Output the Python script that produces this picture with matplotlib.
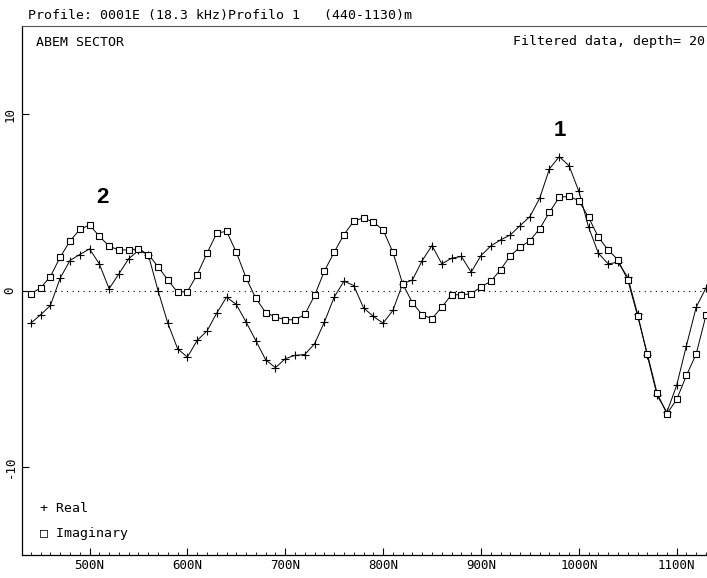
import matplotlib
matplotlib.use('Agg')
import matplotlib.pyplot as plt
from matplotlib.ticker import MultipleLocator, FixedLocator

# station positions along the profile (m)
dist = [440, 450, 460, 470, 480, 490, 500, 510, 520, 530,
        540, 550, 560, 570, 580, 590, 600, 610, 620, 630,
        640, 650, 660, 670, 680, 690, 700, 710, 720, 730,
        740, 750, 760, 770, 780, 790, 800, 810, 820, 830,
        840, 850, 860, 870, 880, 890, 900, 910, 920, 930,
        940, 950, 960, 970, 980, 990, 1000, 1010, 1020, 1030,
        1040, 1050, 1060, 1070, 1080, 1090, 1100, 1110, 1120, 1130]

real = [-1.85, -1.38, -0.85, 0.70, 1.70, 2.04, 2.36, 1.51, 0.10, 0.94,
        1.80, 2.27, 2.04, 0.00, -1.85, -3.30, -3.78, -2.83, -2.30, -1.28,
        -0.38, -0.79, -1.79, -2.85, -3.93, -4.38, -3.87, -3.68, -3.63, -3.02,
        -1.79, -0.38, 0.53, 0.28, -0.98, -1.47, -1.85, -1.13, 0.38, 0.60,
        1.70, 2.55, 1.51, 1.83, 1.93, 1.04, 1.98, 2.52, 2.87, 3.15,
        3.68, 4.19, 5.23, 6.90, 7.59, 7.08, 5.63, 3.59, 2.11, 1.51,
        1.60, 0.75, -1.32, -3.68, -5.95, -6.90, -5.38, -3.12, -0.94, 0.15]

imag = [-0.19, 0.15, 0.79, 1.89, 2.80, 3.46, 3.72, 3.08, 2.51, 2.30,
        2.30, 2.36, 2.04, 1.36, 0.60, -0.10, -0.06, 0.90, 2.11, 3.25,
        3.36, 2.17, 0.72, -0.45, -1.25, -1.50, -1.66, -1.66, -1.36, -0.28,
        1.10, 2.17, 3.17, 3.93, 4.12, 3.87, 3.44, 2.17, 0.38, -0.70,
        -1.38, -1.60, -0.94, -0.24, -0.24, -0.19, 0.21, 0.52, 1.17, 1.98,
        2.45, 2.83, 3.50, 4.44, 5.29, 5.34, 5.10, 4.15, 3.02, 2.30,
        1.74, 0.60, -1.42, -3.59, -5.82, -6.99, -6.18, -4.82, -3.59, -1.40]

xticks = [500, 600, 700, 800, 900, 1000, 1100]
xlabels = ['500N', '600N', '700N', '800N', '900N', '1000N', '1100N']
yticks = [-10, 0, 10]

mono = ['DejaVu Sans Mono', 'DejaVu Sans']
W, H = 707, 578

fig = plt.figure(figsize=(W / 100, H / 100), dpi=100)
ax = fig.add_axes([22 / W, (H - 555) / H, 1 - 22 / W, (555 - 26) / H])

ax.axhline(0, color='black', lw=0.8, ls=(0, (1, 4)))
ax.plot(dist, real, color='black', lw=0.7, marker='+', ms=6, mew=0.8)
ax.plot(dist, imag, color='black', lw=0.7, marker='s', ms=4.5, mew=0.8,
        mfc='white', mec='black')

ax.set_xlim(431, 1131)
ax.set_ylim(-15, 15)

# ticks inside, like the old printout
ax.xaxis.set_major_locator(FixedLocator(xticks))
ax.xaxis.set_minor_locator(MultipleLocator(10))
ax.set_xticklabels(xlabels, family=mono, fontsize=9)
ax.yaxis.set_major_locator(FixedLocator(yticks))
ax.set_yticklabels([str(t) for t in yticks], family=mono, fontsize=9,
                   rotation=90, va='center')
ax.tick_params(axis='both', which='major', direction='in', length=5, width=0.8, pad=3)
ax.tick_params(axis='x', which='minor', direction='in', length=2, width=0.6)
ax.tick_params(axis='y', which='major', pad=4)
ax.spines['right'].set_visible(False)
ax.spines['top'].set_color('#555555')
for s in ['left', 'bottom']:
    ax.spines[s].set_linewidth(0.9)

# header texts
fig.text(28 / W, 1 - 15 / H, 'Profile: 0001E (18.3 kHz)Profilo 1   (440-1130)m',
         family=mono, fontsize=9.5, va='center', ha='left')
fig.text(36 / W, 1 - 42 / H, 'ABEM SECTOR', family=mono, fontsize=9.5,
         va='center', ha='left')
fig.text(705 / W, 1 - 42 / H, 'Filtered data, depth= 20', family=mono,
         fontsize=9.5, va='center', ha='right')

# legend text
fig.text(40 / W, 1 - 509 / H, '+ Real', family=mono, fontsize=9.5, va='center')
fig.text(40 / W, 1 - 533 / H, '\u25a1 Imaginary', family=mono, fontsize=9.5, va='center')

# anomaly labels
ax.text(513, 5.3, '2', family='Liberation Sans', fontweight='bold', fontsize=16,
        ha='center', va='center')
ax.text(981, 9.1, '1', family='Liberation Sans', fontweight='bold', fontsize=16,
        ha='center', va='center')

fig.savefig('out.png', dpi=100)
